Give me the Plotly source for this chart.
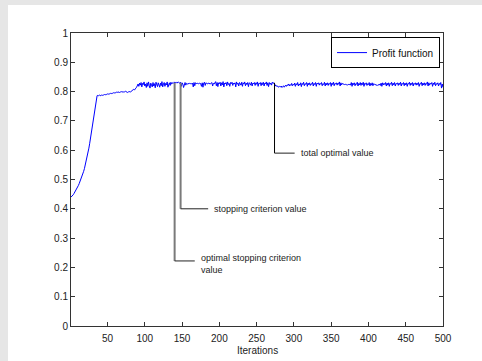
import plotly.graph_objects as go

# ---- data ----
profit_rise = [0.440,0.442,0.445,0.448,0.452,0.456,0.460,0.465,0.470,0.475,0.480,0.486,0.492,0.498,0.505,0.512,0.520,0.528,0.537,0.547,
               0.557,0.568,0.580,0.593,0.607,0.622,0.638,0.655,0.672,0.690,0.708,0.727,0.746,0.765,0.782,0.786,0.787,0.786,0.788,0.787]
profit_plateau = [0.786,0.788,0.787,0.789,0.788,0.790,0.789,0.791,0.790,0.792,0.791,0.793,0.792,0.794,0.793,0.795,0.794,0.796,0.795,0.797,
                  0.796,0.798,0.797,0.799,0.798,0.797,0.799,0.798,0.800,0.799,0.798,0.800,0.799,0.801,0.800,0.798,0.797,0.799,0.801,0.800,
                  0.799,0.801,0.803,0.806,0.808,0.805,0.807,0.812,0.815,0.820,0.826,0.818,0.829,0.822,0.831,0.816,0.828,0.824,0.833,0.819]
profit_steady = [
    0.826,0.814,0.830,0.818,0.833,0.821,0.812,0.829,0.824,0.816,0.831,0.819,0.827,0.813,0.832,0.822,0.817,0.830,0.825,0.815,
    0.829,0.820,0.834,0.816,0.826,0.831,0.818,0.828,0.823,0.833,0.815,0.827,0.830,0.821,0.832,0.826,0.829,0.831,0.828,0.833,
    0.830,0.832,0.829,0.831,0.833,0.830,0.828,0.832,0.818,0.830,0.826,0.814,0.829,0.831,0.822,0.828,0.826,0.827,0.829,0.828,
    0.827,0.828,0.826,0.829,0.816,0.831,0.820,0.830,0.828,0.827,0.829,0.826,0.828,0.829,0.827,0.818,0.830,0.815,0.829,0.832,
    0.821,0.830,0.828,0.826,0.829,0.827,0.828,0.826,0.829,0.831,0.819,0.828,0.826,0.829,0.834,0.820,0.831,0.817,0.830,0.827,
    0.832,0.819,0.830,0.823,0.834,0.816,0.829,0.826,0.831,0.820,0.833,0.824,0.828,0.818,0.831,0.827,0.832,0.821,0.829,0.826,
    0.830,0.816,0.833,0.825,0.829,0.819,0.831,0.827,0.822,0.832,0.818,0.830,0.826,0.833,0.820,0.829,0.824,0.831,0.817,0.830,
    0.828,0.822,0.832,0.819,0.829,0.826,0.831,0.821,0.830,0.825,0.833,0.818,0.829,0.827,0.831,0.820,0.830,0.824,0.832,0.819,
    0.829,0.826,0.833,0.821,0.830,0.817,0.831,0.825,0.829,0.822,0.832,0.828,0.830,0.826,0.822,0.818,0.820,0.819,0.817,0.815,
    0.818,0.816,0.819,0.814,0.817,0.820,0.815,0.819,0.822,0.818,0.823,0.821,0.826,0.819,0.824,0.821,0.828,0.820,0.825,0.822,
    0.829,0.818,0.827,0.823,0.831,0.819,0.826,0.822,0.830,0.817,0.828,0.824,0.832,0.820,0.827,0.825,0.831,0.818,0.829,0.823,
    0.830,0.821,0.827,0.825,0.832,0.819,0.828,0.824,0.831,0.818,0.829,0.826,0.830,0.822,0.828,0.825,0.831,0.820,0.827,0.824,
    0.832,0.819,0.829,0.823,0.830,0.821,0.828,0.825,0.831,0.818,0.829,0.824,0.832,0.820,0.828,0.826,0.830,0.822,0.829,0.825,
    0.833,0.819,0.830,0.823,0.828,0.825,0.826,0.824,0.825,0.823,0.824,0.822,0.825,0.823,0.826,0.822,0.831,0.818,0.829,0.824,
    0.830,0.820,0.827,0.825,0.832,0.819,0.828,0.823,0.831,0.821,0.829,0.824,0.832,0.818,0.828,0.825,0.830,0.821,0.827,0.824,
    0.831,0.819,0.828,0.822,0.830,0.820,0.827,0.825,0.824,0.822,0.823,0.821,0.824,0.822,0.826,0.821,0.829,0.818,0.830,0.823,
    0.828,0.824,0.831,0.819,0.829,0.822,0.830,0.818,0.828,0.825,0.832,0.820,0.829,0.823,0.831,0.819,0.828,0.826,0.830,0.821,
    0.829,0.824,0.832,0.819,0.828,0.825,0.831,0.820,0.829,0.823,0.830,0.818,0.828,0.826,0.832,0.821,0.829,0.824,0.831,0.819,
    0.828,0.825,0.830,0.822,0.829,0.824,0.831,0.818,0.827,0.826,0.832,0.820,0.829,0.823,0.830,0.821,0.828,0.825,0.833,0.819,
    0.830,0.822,0.828,0.826,0.831,0.818,0.829,0.824,0.832,0.820,0.827,0.825,0.830,0.819,0.828,0.824,0.831,0.812,0.826,0.815]
profit = profit_rise + profit_plateau + profit_steady
iterations = list(range(1, len(profit) + 1))

x_ticks = [50, 100, 150, 200, 250, 300, 350, 400, 450, 500]
y_ticks = [0, 0.1, 0.2, 0.3, 0.4, 0.5, 0.6, 0.7, 0.8, 0.9, 1]
y_tick_text = ["0", "0.1", "0.2", "0.3", "0.4", "0.5", "0.6", "0.7", "0.8", "0.9", "1"]

marker_iters = [140, 148, 274]
marker_top = [0.83, 0.83, 0.83]
marker_bottom = [0.222, 0.40, 0.59]
label_ends = [167, 185, 301]
labels = ["optimal stopping criterion<br>value", "stopping criterion value", "total optimal value"]
vline_colors = ["#7a7a7a", "#7a7a7a", "#000000"]
vline_widths = [2, 2, 1]

fig = go.Figure()
fig.add_trace(go.Scatter(x=iterations, y=profit, mode="lines", name="Profit function",
                         line=dict(color="#0000ff", width=1)))

shapes = [dict(type="rect", xref="paper", yref="paper", x0=-0.1694, x1=1.2, y0=-0.2, y1=1.0956,
               fillcolor="white", line=dict(width=0), layer="below")]
annotations = []
ann_font = dict(size=9, color="#222222", family="Liberation Sans")
for i in range(3):
    shapes.append(dict(type="line", xref="x", yref="y", x0=marker_iters[i], x1=marker_iters[i],
                       y0=marker_top[i], y1=marker_bottom[i],
                       line=dict(color=vline_colors[i], width=vline_widths[i])))
    shapes.append(dict(type="line", xref="x", yref="y", x0=marker_iters[i], x1=label_ends[i],
                       y0=marker_bottom[i], y1=marker_bottom[i],
                       line=dict(color="#222222", width=1)))
    if i == 0:
        annotations.append(dict(x=label_ends[i], y=marker_bottom[i], xref="x", yref="y", text=labels[i],
                                showarrow=False, xanchor="left", yanchor="top", xshift=4, yshift=10,
                                align="left", font=ann_font))
    else:
        annotations.append(dict(x=label_ends[i], y=marker_bottom[i], xref="x", yref="y", text=labels[i],
                                showarrow=False, xanchor="left", yanchor="middle", xshift=4,
                                align="left", font=ann_font))

# x-axis title
annotations.append(dict(x=0.5, y=-0.085, xref="paper", yref="paper", text="Iterations",
                        showarrow=False, xanchor="center", yanchor="middle",
                        font=dict(size=10, color="#222222", family="Liberation Sans")))

fig.update_layout(
    width=482, height=361,
    margin=dict(l=71, r=39, t=33, b=35, pad=0),
    paper_bgcolor="#e6e6e6", plot_bgcolor="white",
    font=dict(family="Liberation Sans", size=10, color="#222222"),
    shapes=shapes, annotations=annotations,
    showlegend=True,
    legend=dict(x=0.992, y=0.986, xanchor="right", yanchor="top",
                bgcolor="white", bordercolor="#000000", borderwidth=1,
                font=dict(size=10, family="Liberation Sans", color="#111111"),
                tracegroupgap=0, itemwidth=30),
    xaxis=dict(range=[1, 500], tickvals=x_ticks, ticks="inside", ticklen=4, tickcolor="#333333",
               showline=True, linecolor="#333333", linewidth=1, mirror="ticks", showgrid=False,
               zeroline=False, tickfont=dict(size=10), ticklabelstandoff=3, automargin=False),
    yaxis=dict(range=[0, 1], tickvals=y_ticks, ticktext=y_tick_text, ticks="inside", ticklen=4,
               tickcolor="#333333", showline=True, linecolor="#333333", linewidth=1, mirror="ticks",
               showgrid=False, zeroline=False, tickfont=dict(size=10), automargin=False),
)

fig.write_html("out.html")
